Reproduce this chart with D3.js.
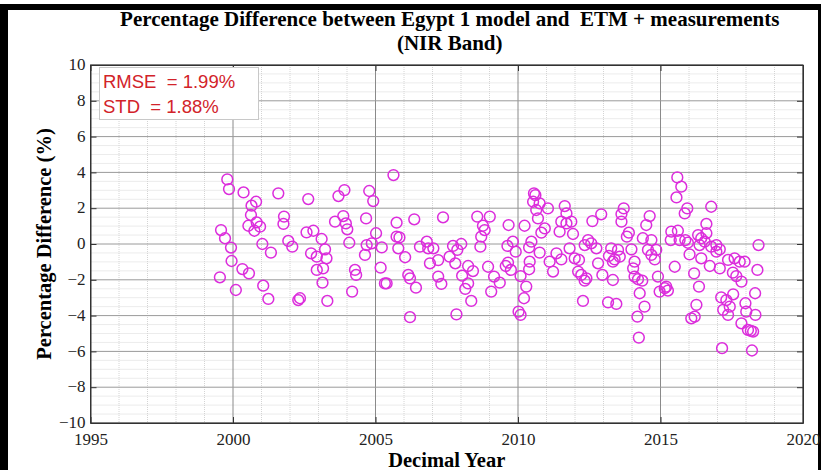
<!DOCTYPE html>
<html>
<head>
<meta charset="utf-8">
<script src="https://cdn.jsdelivr.net/npm/d3@7"></script>
<style>
  html, body { margin: 0; padding: 0; background: #fff; }
  svg { display: block; }
</style>
</head>
<body>
<svg id="chart" width="821" height="470"></svg>
<script>
// Decimal year of each acquisition and its percentage difference (model vs ETM+, NIR band)
const years = [
  1999.80, 1999.86, 2000.37, 2000.65, 2000.81, 2000.63, 2000.54, 2000.83, 2000.95, 2000.75,
  2001.59, 2001.79, 2001.77, 2002.64, 1999.58, 1999.72, 1999.93, 1999.95, 2001.03, 2001.33,
  2000.33, 2000.56, 1999.54, 2000.10, 2001.06, 2001.24, 2001.94, 2002.08, 2002.29, 2002.35,
  2002.58, 2002.82, 2002.74, 2002.94, 2002.94,
  2005.63, 2003.70, 2003.91, 2004.78, 2004.92, 2003.58, 2003.87, 2003.96, 2004.01, 2004.67,
  2005.02, 2005.74, 2006.36, 2005.74, 2005.84, 2003.11, 2003.23, 2003.28, 2003.16, 2003.14,
  2003.31, 2004.08, 2004.69, 2004.87, 2005.22, 2004.63, 2004.28, 2004.32, 2004.18, 2005.18,
  2005.33, 2005.39, 2005.80, 2006.04, 2006.15, 2006.21, 2006.42, 2006.21, 2006.56, 2006.80,
  2006.85, 2007.03, 2006.91, 2007.20, 2007.20,
  2007.37, 2007.31, 2007.72, 2008.01, 2007.87, 2007.60, 2007.80, 2008.25, 2008.42, 2008.04,
  2008.25, 2008.15, 2008.36, 2007.84, 2008.57, 2009.01, 2008.77, 2008.83, 2008.71, 2008.68,
  2008.95, 2009.16, 2009.36, 2009.06, 2009.67, 2010.23, 2009.63, 2009.82, 2009.92, 2009.57,
  2009.75, 2009.65, 2010.09, 2010.29, 2010.21, 2010.02, 2010.09, 2010.39, 2010.47, 2010.41,
  2010.39, 2010.56, 2010.61, 2010.53, 2010.76, 2011.05, 2010.64, 2010.70, 2010.94, 2010.82,
  2010.76, 2011.11, 2011.23,
  2011.64, 2011.70, 2011.52, 2011.70, 2011.87, 2011.46, 2011.93, 2011.81, 2011.35, 2011.52,
  2011.99, 2012.14, 2012.11, 2012.22, 2012.40, 2012.34, 2012.28, 2012.61, 2012.92, 2012.46,
  2012.34, 2012.57, 2012.75, 2012.81, 2012.96, 2013.27, 2013.19, 2013.33, 2013.51, 2013.57,
  2013.39, 2013.33, 2013.16, 2013.45, 2013.63, 2013.71, 2013.63, 2013.89, 2013.82, 2013.98,
  2014.09, 2014.04, 2014.09, 2014.21, 2014.36, 2014.27, 2014.44, 2014.19, 2014.24, 2014.62,
  2014.50, 2014.38, 2014.68, 2014.56, 2014.68, 2014.80, 2014.85, 2014.91, 2014.97, 2015.15,
  2015.26, 2015.20,
  2015.59, 2015.73, 2015.56, 2015.94, 2015.85, 2016.78, 2016.61, 2015.38, 2015.61, 2015.36,
  2015.67, 2015.87, 2015.96, 2016.32, 2016.43, 2016.61, 2016.55, 2016.37, 2016.78, 2016.96,
  2017.08, 2016.96, 2016.02, 2016.43, 2015.50, 2016.73, 2017.08, 2017.37, 2017.60, 2017.78,
  2017.54, 2017.66, 2017.84, 2017.95, 2018.40, 2018.44, 2016.18, 2016.35, 2016.26, 2016.08,
  2016.20, 2017.13, 2017.31, 2017.43, 2017.20, 2017.37, 2017.55, 2017.98, 2018.01, 2018.32,
  2017.84, 2018.07, 2018.25, 2018.33, 2017.16, 2018.21, 2018.17
];

const diffs = [
  3.61, 3.07, 2.88, 2.14, 2.36, 1.62, 1.02, 1.21, 0.97, 0.74,
  2.83, 1.53, 1.12, 2.51, 0.78, 0.32, -0.20, -0.95, 0.00, -0.48,
  -1.40, -1.64, -1.86, -2.57, -2.33, -3.07, 0.17, -0.15, -3.13, -3.03,
  0.65, 0.74, -0.52, -0.71, -1.45,
  3.85, 2.68, 3.01, 2.96, 2.40, 1.25, 1.56, 1.15, 0.82, 1.43,
  0.60, 1.19, 1.38, 0.41, 0.37, 0.28, -0.30, -0.80, -1.36, -2.16,
  -3.18, 0.07, -0.06, 0.04, -0.19, -0.61, -1.45, -1.73, -2.66, -1.32,
  -2.20, -2.20, -0.24, -0.74, -1.73, -1.92, -2.44, -4.09, -0.15, 0.13,
  -0.24, -0.24, -1.08, -0.90, -1.82,
  1.49, -2.23, -0.11, 0.00, -0.33, -0.71, -1.08, -1.23, -1.51, -1.77,
  -2.20, -2.51, -3.18, -3.93, 1.53, 1.53, 1.02, 0.78, 0.41, -0.15,
  -1.27, -1.82, -2.16, -2.66, 1.06, 1.02, -0.11, 0.13, -0.43, -1.23,
  -1.45, -1.04, -1.79, -2.38, -3.03, -3.78, -3.96, -0.19, 0.13, -0.99,
  -1.41, 2.83, 2.73, 2.36, 2.27, 1.99, 1.90, 1.43, 0.87, 0.63,
  -0.48, -0.99, -1.54,
  2.12, 1.71, 1.25, 1.15, 1.25, 0.69, 0.56, -0.24, -0.52, -0.86,
  -0.80, -0.89, -1.54, -1.73, -1.92, -2.05, -3.18, 1.28, 1.66, 0.22,
  -0.06, 0.04, -0.24, -1.08, -1.73, -0.24, -0.67, -0.99, -0.33, -0.71,
  -0.86, -2.01, -3.26, -3.35, 1.67, 1.99, 1.25, 0.63, 0.41, -0.30,
  -0.99, -1.36, -1.82, -1.97, -2.05, -2.75, -3.50, -4.06, -5.23, 1.56,
  1.06, 0.32, 0.22, -0.33, -0.61, -0.86, -0.33, -1.82, -2.66, -2.47,
  -2.60, -2.38,
  3.72, 3.20, 2.60, 1.99, 1.71, 2.08, 1.12, 0.69, 0.74, 0.22,
  0.22, 0.22, 0.07, 0.50, 0.32, 0.60, 0.13, -0.06, -0.15, -0.06,
  -0.30, -0.43, -0.58, -0.80, -1.27, -1.23, -1.36, -0.89, -0.80, -0.99,
  -1.60, -1.79, -2.10, -0.99, -1.45, -0.06, -1.64, -2.38, -3.40, -4.15,
  -4.06, -2.98, -3.13, -3.50, -3.68, -3.96, -2.81, -3.31, -3.78, -2.75,
  -4.43, -4.80, -4.89, -3.96, -5.82, -5.95, -4.85
];

// Axis ticks and annotation text
const xTicks = [1995, 2000, 2005, 2010, 2015, 2020];
const yTicks = [-10, -8, -6, -4, -2, 0, 2, 4, 6, 8, 10];
const titleLines = ["Percentage Difference between Egypt 1 model and  ETM + measurements", "(NIR Band)"];
const statsLines = ["RMSE  = 1.99%", "STD  = 1.88%"];

const svg = d3.select("#chart");
const W = 821, H = 470;
const plot = { left: 90.5, right: 803, top: 65, bottom: 423 };

const x = d3.scaleLinear().domain([1995, 2020]).range([plot.left, plot.right]);
const y = d3.scaleLinear().domain([-10, 10]).range([plot.bottom, plot.top]);

// white page with black frame
svg.append("rect").attr("width", W).attr("height", H).attr("fill", "#fff");
svg.append("rect").attr("x", 0).attr("y", 4).attr("width", 821).attr("height", 6).attr("fill", "#000");
svg.append("rect").attr("x", 0).attr("y", 4).attr("width", 8).attr("height", H - 4).attr("fill", "#000");
svg.append("rect").attr("x", 818).attr("y", 4).attr("width", 3).attr("height", H - 4).attr("fill", "#000");

const serif = "'Liberation Serif', 'Times New Roman', serif";
const sans = "'Liberation Sans', Arial, sans-serif";

// minor grid
const grid = svg.append("g");
const minorX = d3.range(1996, 2020, 1).filter(v => v % 5 !== 0);
const minorY = d3.range(-9.5, 10, 0.5).filter(v => Math.abs(v % 2) > 1e-6);
grid.selectAll("line.mx").data(minorX).join("line")
  .attr("x1", d => x(d)).attr("x2", d => x(d))
  .attr("y1", plot.top).attr("y2", plot.bottom)
  .attr("stroke", "#d4d4d4").attr("stroke-width", 1).attr("stroke-dasharray", "1,1");
grid.selectAll("line.my").data(minorY).join("line")
  .attr("x1", plot.left).attr("x2", plot.right)
  .attr("y1", d => y(d)).attr("y2", d => y(d))
  .attr("stroke", "#d8d8d8").attr("stroke-width", 1).attr("stroke-dasharray", "1,1");
// major grid
grid.selectAll("line.gx").data(xTicks).join("line")
  .attr("x1", d => x(d)).attr("x2", d => x(d))
  .attr("y1", plot.top).attr("y2", plot.bottom)
  .attr("stroke", "#8a8a8a").attr("stroke-width", 1);
grid.selectAll("line.gy").data(yTicks).join("line")
  .attr("x1", plot.left).attr("x2", plot.right)
  .attr("y1", d => y(d)).attr("y2", d => y(d))
  .attr("stroke", "#9a9a9a").attr("stroke-width", 1);

// axes (ticks point inward)
const xAxis = svg.append("g").attr("transform", `translate(0,${plot.bottom})`)
  .call(d3.axisBottom(x).tickValues(xTicks).tickFormat(d3.format("d")).tickSizeInner(-6).tickSizeOuter(0).tickPadding(8));
const yAxis = svg.append("g").attr("transform", `translate(${plot.left},0)`)
  .call(d3.axisLeft(y).tickValues(yTicks).tickFormat(d3.format("d")).tickSizeInner(-6).tickSizeOuter(0).tickPadding(5));
svg.append("g").attr("transform", `translate(0,${plot.top})`)
  .call(d3.axisTop(x).tickValues(xTicks).tickFormat("").tickSizeInner(-6).tickSizeOuter(0));
svg.append("g").attr("transform", `translate(${plot.right},0)`)
  .call(d3.axisRight(y).tickValues(yTicks).tickFormat("").tickSizeInner(-6).tickSizeOuter(0));
svg.selectAll(".domain").attr("stroke", "#333");
svg.selectAll(".tick line").attr("stroke", "#333");
[xAxis, yAxis].forEach(a => a.selectAll("text")
  .attr("font-family", serif).attr("font-size", 17).attr("fill", "#222"));
xAxis.selectAll("text").attr("dy", "0.8em");
yAxis.selectAll("text").attr("dy", "0.28em");

// plot box
svg.append("rect")
  .attr("x", plot.left).attr("y", plot.top)
  .attr("width", plot.right - plot.left).attr("height", plot.bottom - plot.top)
  .attr("fill", "none").attr("stroke", "#333").attr("stroke-width", 1);

// scatter markers
svg.append("g").selectAll("circle").data(d3.zip(years, diffs)).join("circle")
  .attr("cx", d => x(d[0])).attr("cy", d => y(d[1])).attr("r", 5.4)
  .attr("fill", "none").attr("stroke", "#dc2ddc").attr("stroke-width", 1.5);

// statistics box
svg.append("rect").attr("x", 99.5).attr("y", 67.5).attr("width", 159).attr("height", 52)
  .attr("fill", "#fff").attr("stroke", "#c8c8c8").attr("stroke-width", 1);
svg.append("g").selectAll("text").data(statsLines).join("text")
  .attr("x", 103).attr("y", (d, i) => 88 + i * 25)
  .attr("font-family", sans).attr("font-size", 18.5).attr("fill", "#d2232a")
  .style("white-space", "pre")
  .text(d => d);

// title
svg.append("g").selectAll("text").data(titleLines).join("text")
  .attr("x", (plot.left + plot.right) / 2 + 3).attr("y", (d, i) => 26 + i * 24)
  .attr("text-anchor", "middle")
  .attr("font-family", serif).attr("font-weight", "bold").attr("font-size", 21).attr("fill", "#000")
  .style("white-space", "pre")
  .text(d => d);

// axis labels
svg.append("text")
  .attr("x", (plot.left + plot.right) / 2).attr("y", 467)
  .attr("text-anchor", "middle")
  .attr("font-family", serif).attr("font-weight", "bold").attr("font-size", 20.5).attr("fill", "#000")
  .text("Decimal Year");
svg.append("text")
  .attr("transform", `translate(51,${(plot.top + plot.bottom) / 2}) rotate(-90)`)
  .attr("text-anchor", "middle")
  .attr("font-family", serif).attr("font-weight", "bold").attr("font-size", 20.5).attr("fill", "#000")
  .text("Percentage Difference (%)");
</script>
</body>
</html>
